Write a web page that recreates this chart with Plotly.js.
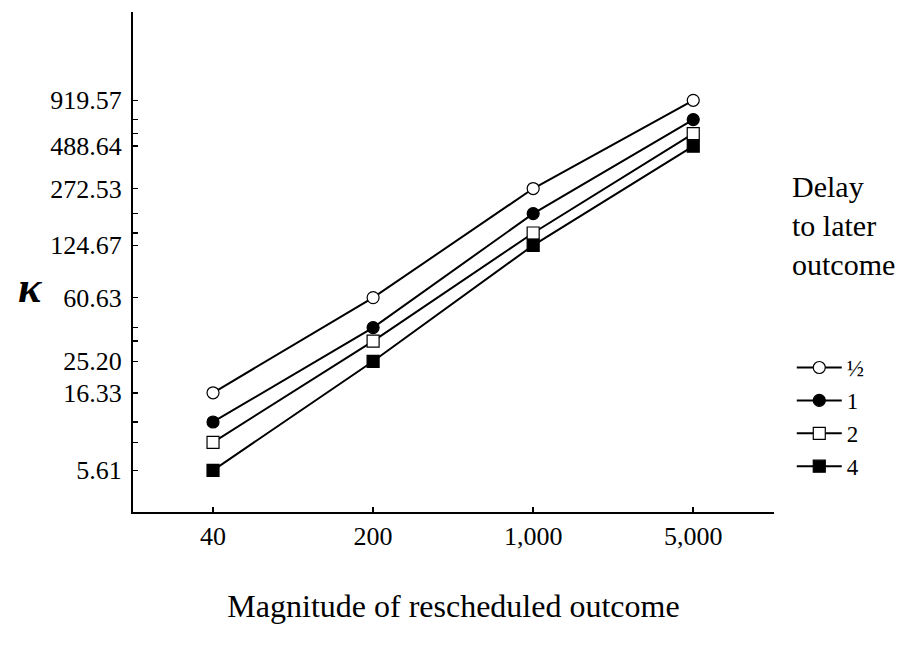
<!DOCTYPE html>
<html>
<head>
<meta charset="utf-8">
<script src="https://cdn.plot.ly/plotly-3.0.1.min.js"></script>
<style>html,body{margin:0;padding:0;background:#fff;}#chart{width:908px;height:648px;}</style>
</head>
<body>
<div id="chart"></div>
<script>
// Magnitudes of the rescheduled outcome (x categories)
const magnitudes = [40, 200, 1000, 5000];
const magnitudeLabels = ['40', '200', '1,000', '5,000'];

// Delay to later outcome (series names)
const delays = ['½', '1', '2', '4'];

// κ values per delay
const kHalf = [16.33, 60.63, 272.53, 919.57];
const kOne = [10.92, 40.1, 192.9, 704.8];
const kTwo = [8.25, 33.3, 147.7, 581.3];
const kFour = [5.61, 25.20, 124.67, 488.64];

// Y tick labels (labelled ticks) and unlabelled ticks
const yLabelled = [5.61, 16.33, 25.20, 60.63, 124.67, 272.53, 488.64, 919.57];
const yLabelText = ['5.61', '16.33', '25.20', '60.63', '124.67', '272.53', '488.64', '919.57'];
const yUnlabelled = [8.25, 10.92, 33.3, 40.1, 147.7, 192.9, 581.3, 704.8];

const seriesValues = [kHalf, kOne, kTwo, kFour];
const styles = [
  {symbol: 'circle', fill: '#ffffff'},
  {symbol: 'circle', fill: '#000000'},
  {symbol: 'square', fill: '#ffffff'},
  {symbol: 'square', fill: '#000000'}
];

const traces = seriesValues.map((vals, i) => ({
  type: 'scatter',
  mode: 'lines+markers',
  name: delays[i],
  x: magnitudes,
  y: vals,
  line: {color: '#000000', width: 2},
  marker: {symbol: styles[i].symbol, size: 12, color: styles[i].fill,
           line: {color: '#000000', width: 1.2}},
  cliponaxis: false
}));

const tickVals = yLabelled.concat(yUnlabelled);
const tickText = yLabelText.concat(yUnlabelled.map(() => ''));

const serif = "'Liberation Serif', 'Times New Roman', serif";

const layout = {
  width: 908,
  height: 648,
  paper_bgcolor: '#ffffff',
  plot_bgcolor: '#ffffff',
  margin: {l: 133.3, r: 134, t: 11.7, b: 136.3},
  font: {family: serif, color: '#000000', size: 26},
  showlegend: true,
  legend: {
    xref: 'container', yref: 'container',
    x: 0.872, y: 0.466, xanchor: 'left', yanchor: 'top',
    font: {family: serif, size: 23, color: '#000000'},
    bgcolor: 'rgba(0,0,0,0)',
    itemwidth: 45,
    tracegroupgap: 0
  },
  xaxis: {
    type: 'log',
    range: [1.2526, 4.0516],
    tickmode: 'array',
    tickvals: magnitudes,
    ticktext: magnitudeLabels,
    ticks: 'inside',
    ticklen: 5,
    tickwidth: 1.5,
    tickcolor: '#000000',
    showline: true,
    linewidth: 2,
    linecolor: '#000000',
    showgrid: false,
    zeroline: false,
    tickfont: {family: serif, size: 26, color: '#000000'},
    title: {text: 'Magnitude of rescheduled outcome', font: {family: serif, size: 32, color: '#000000'}, standoff: 44}
  },
  yaxis: {
    type: 'log',
    range: [0.4994, 3.4921],
    tickmode: 'array',
    tickvals: tickVals,
    ticktext: tickText,
    ticks: 'inside',
    ticklen: 5,
    tickwidth: 1.5,
    tickcolor: '#000000',
    showline: true,
    linewidth: 2,
    linecolor: '#000000',
    showgrid: false,
    zeroline: false,
    ticklabelstandoff: 4,
    tickfont: {family: serif, size: 26, color: '#000000'}
  },
  annotations: [
    {
      xref: 'paper', yref: 'paper',
      x: -0.16, y: 0.45,
      xanchor: 'center', yanchor: 'middle',
      text: '<b><i>κ</i></b>',
      showarrow: false,
      font: {family: serif, size: 44, color: '#000000'}
    },
    {
      xref: 'paper', yref: 'paper',
      x: 1.025, y: 0.573,
      xanchor: 'left', yanchor: 'middle',
      align: 'left',
      text: 'Delay<br>to later<br>outcome',
      showarrow: false,
      font: {family: serif, size: 30, color: '#000000'}
    }
  ]
};

Plotly.newPlot('chart', traces, layout, {displayModeBar: false, staticPlot: true});
</script>
</body>
</html>
